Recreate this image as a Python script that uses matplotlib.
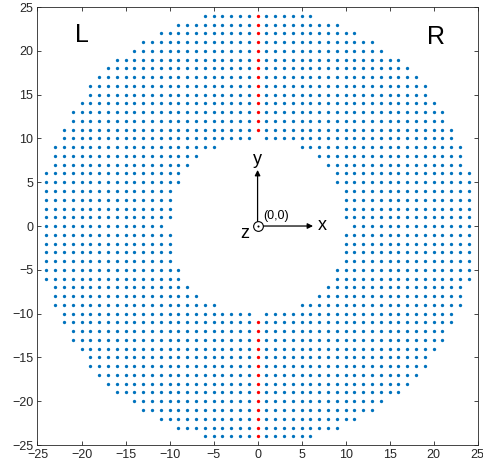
import matplotlib
matplotlib.use("Agg")
import matplotlib.pyplot as plt

plt.rcParams['font.family'] = ['Liberation Sans', 'DejaVu Sans']

# Per-row (|y| = 0..24) largest |x| of points on the outer edge
outer_half = [24, 24, 24, 24, 24, 24, 24, 23, 23, 23, 22, 22, 21, 21, 20,
              19, 19, 18, 17, 16, 14, 13, 11, 9, 6]
# Per-row (|y| = 0..10) largest |x| of the empty inner hole (-1 means no hole)
inner_half = [10, 9, 9, 9, 9, 8, 8, 7, 6, 4, 0]

xticks = [-25, -20, -15, -10, -5, 0, 5, 10, 15, 20, 25]
yticks = [-25, -20, -15, -10, -5, 0, 5, 10, 15, 20, 25]

blue_x, blue_y, red_x, red_y = [], [], [], []
for ay, ow in enumerate(outer_half):
    ih = inner_half[ay] if ay < len(inner_half) else -1
    for y in ([ay] if ay == 0 else [ay, -ay]):
        for x in range(-ow, ow + 1):
            if abs(x) <= ih:
                continue
            if x == 0:
                red_x.append(x); red_y.append(y)
            else:
                blue_x.append(x); blue_y.append(y)

fig = plt.figure(figsize=(4.83, 4.68), dpi=100)
ax = fig.add_axes([0.0776, 0.0491, 0.9114, 0.9359])

ax.plot(blue_x, blue_y, 'o', color='#0072BD', ms=2.4, mew=0, ls='none')
ax.plot(red_x, red_y, 'o', color='#FF0000', ms=2.4, mew=0, ls='none')

# coordinate system sketch
ax.annotate('', xy=(0, 6.4), xytext=(0, 0),
            arrowprops=dict(arrowstyle='-|>', color='k', lw=0.9,
                            mutation_scale=8, shrinkA=0, shrinkB=0))
ax.annotate('', xy=(6.3, 0), xytext=(0, 0),
            arrowprops=dict(arrowstyle='-|>', color='k', lw=0.9,
                            mutation_scale=8, shrinkA=0, shrinkB=0))
ax.plot(0, 0, 'o', mfc='white', mec='k', ms=7, mew=0.8, zorder=5)
ax.plot(0, 0, 'o', color='k', ms=1.5, mew=0, zorder=6)
ax.text(0, 7.6, 'y', fontsize=13, ha='center', va='center')
ax.text(7.3, 0.1, 'x', fontsize=13, ha='center', va='center')
ax.text(-1.5, -0.8, 'z', fontsize=13, ha='center', va='center')
ax.text(2.05, 1.2, '(0,0)', fontsize=9, ha='center', va='center')

ax.text(-19.9, 21.8, 'L', fontsize=18, ha='center', va='center')
ax.text(20.3, 21.6, 'R', fontsize=18, ha='center', va='center')

ax.set_xlim(-25, 25)
ax.set_ylim(-25, 25)
ax.set_xticks(xticks)
ax.set_yticks(yticks)
ax.tick_params(direction='in', length=3.2, width=0.6, colors='#262626',
               labelsize=9, top=True, right=True, pad=3)
for s in ax.spines.values():
    s.set_color('#262626')
    s.set_linewidth(0.6)

fig.savefig('out.png', dpi=100)
